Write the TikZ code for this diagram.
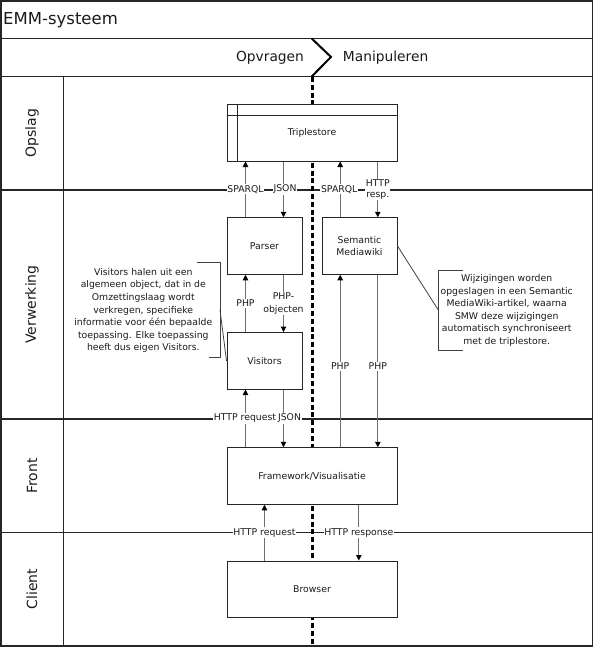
\documentclass[tikz,border=0pt]{standalone}
\usepackage{fontspec}
\setmainfont{DejaVu Sans}
\usetikzlibrary{arrows.meta}
\definecolor{ln}{HTML}{6E6E6E}
\definecolor{tx}{HTML}{1A1A1A}
\tikzset{
  frameline/.style={draw=black!85, line width=1.1pt},
  box/.style={draw=black!85, fill=white, line width=1pt, minimum width=75pt, minimum height=56.5pt, inner sep=0pt, text=tx, font=\fontsize{9.3}{12.5}\selectfont, align=center},
  widebox/.style={box, minimum width=170pt},
  conn/.style={draw=ln, line width=1pt, -{Triangle[length=5.5pt,width=5.5pt,color=black]}},
  lbl/.style={fill=white, inner xsep=0.6pt, inner ysep=1pt, text=tx, font=\fontsize{9.3}{12.5}\selectfont, align=center},
  lanelbl/.style={rotate=90, text=tx, font=\fontsize{14}{16}\selectfont},
  note/.style={text=tx, font=\fontsize{9.3}{12.6}\selectfont, align=center, inner sep=0pt},
  noteline/.style={draw=black!75, line width=0.8pt},
}
\begin{document}
\begin{tikzpicture}[x=1pt,y=-1pt]
\useasboundingbox (0,0) rectangle (594,648);
% frame and lanes
\draw[frameline] (1,1) rectangle (592.5,646);
\draw[frameline] (1,38.5) -- (592.5,38.5);
\draw[frameline] (1,76.5) -- (592.5,76.5);
\draw[frameline] (1,190) -- (592.5,190);
\draw[frameline] (1,419) -- (592.5,419);
\draw[frameline] (1,532.5) -- (592.5,532.5);
\draw[frameline] (63.3,76.5) -- (63.3,646);
% header
\node[anchor=west, inner sep=0pt, text=tx, font=\fontsize{16.5}{18}\selectfont] (title) at (3,20) {EMM-systeem};
\node[inner sep=0pt, text=tx, font=\fontsize{13.8}{16}\selectfont] (opv) at (270,57.5) {Opvragen};
\node[anchor=west, inner sep=0pt, text=tx, font=\fontsize{13.8}{16}\selectfont] (man) at (342.7,57.5) {Manipuleren};
\draw[line width=2pt, black] (311.7,38.5) -- (331,57) -- (311.7,76.5);
% lane labels
\node[lanelbl] (lopslag) at (32,133) {Opslag};
\node[lanelbl] (lverw) at (32,304.5) {Verwerking};
\node[lanelbl] (lfront) at (32,476) {Front};
\node[lanelbl] (lclient) at (32,589) {Client};
% dashed divider
\draw[line width=2.4pt, black, dash pattern=on 5pt off 2.8pt] (312.3,77) -- (312.3,646);
% boxes
\node[widebox, minimum height=56.7pt] (triple) at (312,132.65) {Triplestore};
\draw[draw=black!85, line width=0.9pt] ([xshift=11.3pt]triple.north west) -- ([xshift=11.3pt]triple.south west);
\draw[draw=black!85, line width=0.9pt] ([yshift=-11.4pt]triple.north west) -- ([yshift=-11.4pt]triple.north east);
\node[box] (parser) at (264.5,246) {Parser};
\node[box] (smw) at (359.5,246) {Semantic\\Mediawiki};
\node[box] (visitors) at (264.5,360.8) {Visitors};
\node[widebox] (fw) at (312,476) {Framework/Visualisatie};
\node[widebox] (browser) at (312,589.3) {Browser};
% Triplestore <-> Verwerking
\draw[conn] ([xshift=19pt]parser.north west) -- ([xshift=19pt]parser.north west |- triple.south) node[lbl, midway] {SPARQL};
\draw[conn] ([xshift=57pt]parser.north west |- triple.south) -- ([xshift=57pt]parser.north west) node[lbl, midway, xshift=1.5pt] {JSON};
\draw[conn] ([xshift=18.7pt]smw.north west) -- ([xshift=18.7pt]smw.north west |- triple.south) node[lbl, midway, xshift=-1pt] {SPARQL};
\draw[conn] ([xshift=56.3pt]smw.north west |- triple.south) -- ([xshift=56.3pt]smw.north west) node[lbl, midway, inner ysep=0.5pt, font=\fontsize{9.3}{11.5}\selectfont] {HTTP\\resp.};
% Parser <-> Visitors
\draw[conn] ([xshift=19pt]visitors.north west) -- ([xshift=19pt]visitors.north west |- parser.south) node[lbl, midway] {PHP};
\draw[conn] ([xshift=57pt]visitors.north west |- parser.south) -- ([xshift=57pt]visitors.north west) node[lbl, midway, font=\fontsize{9.3}{12.5}\selectfont] {PHP-\\objecten};
% Visitors <-> Framework
\draw[conn] ([xshift=57pt]visitors.south west) -- ([xshift=57pt]visitors.south west |- fw.north) node[lbl, midway, xshift=6pt] {JSON};
\draw[conn] ([xshift=19pt]visitors.south west |- fw.north) -- ([xshift=19pt]visitors.south west) node[lbl, midway, xshift=-0.5pt] {HTTP request};
% SMW <-> Framework
\draw[conn] ([xshift=18.7pt]smw.south west |- fw.north) -- ([xshift=18.7pt]smw.south west) node[lbl, pos=0.47] {PHP};
\draw[conn] ([xshift=56.3pt]smw.south west) -- ([xshift=56.3pt]smw.south west |- fw.north) node[lbl, pos=0.53] {PHP};
% Framework <-> Browser
\draw[conn] ([xshift=38pt]fw.south west |- browser.north) -- ([xshift=38pt]fw.south west) node[lbl, midway] {HTTP request};
\draw[conn] ([xshift=132.3pt]fw.south west) -- ([xshift=132.3pt]fw.south west |- browser.north) node[lbl, midway] {HTTP response};
% left note
\node[note] (notel) at (143.3,310.5) {Visitors halen uit een\\algemeen object, dat in de\\Omzettingslaag wordt\\verkregen, specifieke\\informatie voor één bepaalde\\toepassing. Elke toepassing\\heeft dus eigen Visitors.};
\coordinate (blt) at (196.7,262.7);
\coordinate (blm) at (220,310);
\coordinate (blb) at (209,357.3);
\draw[noteline] (blt) -- (blt -| blm) -- (blb -| blm) -- (blb);
\draw[noteline] (blm) -- (visitors.west);
% right note
\node[note] (noter) at (506.7,310.5) {Wijzigingen worden\\opgeslagen in een Semantic\\MediaWiki-artikel, waarna\\SMW deze wijzigingen\\automatisch synchroniseert\\met de triplestore.};
\coordinate (brt) at (463.3,270);
\coordinate (brm) at (438.3,310);
\coordinate (brb) at (463.3,350.7);
\draw[noteline] (brt) -- (brt -| brm) -- (brb -| brm) -- (brb);
\draw[noteline] (smw.east) -- (brm);
\end{tikzpicture}
\end{document}
